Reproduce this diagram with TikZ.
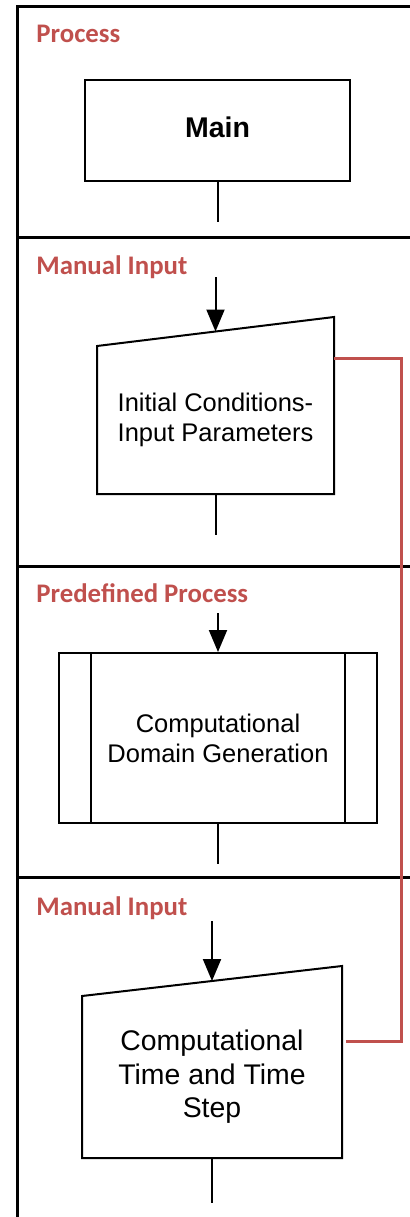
\documentclass[tikz,border=0pt]{standalone}
\usepackage{fontspec}
\setmainfont{Liberation Sans}
\newfontfamily\lanefont{Carlito}
\usetikzlibrary{arrows.meta,positioning}
\definecolor{lanered}{RGB}{192,80,77}

\begin{document}
\begin{tikzpicture}[
  x=1pt, y=-1pt,
  lane/.style={line width=1.5pt},
  lanetitle/.style={anchor=base west, inner sep=0pt, text=lanered, font=\lanefont\bfseries\fontsize{13.4}{15}\selectfont},
  box/.style={draw, line width=1pt, align=center, font=\fontsize{12.75}{15}\selectfont},
  manin/.style={box, draw=none},
  link/.style={line width=1pt},
  arr/.style={-{Triangle[length=11pt,width=9pt]}, line width=1pt},
  feedback/.style={draw=lanered, line width=1.5pt}
]
  \useasboundingbox (0,0) rectangle (205,608.5);

  \draw[lane] (205,3.25) -- (8.5,3.25) -- (8.5,608.5);
  \foreach \y in {118.75,283,438.75}
    \draw[lane] (8.5,\y) -- (205,\y);

  \node[lanetitle] (lane1) at (18,21) {Process};
  \node[lanetitle] (lane2) at (18,137) {Manual Input};
  \node[lanetitle] (lane3) at (18,301) {Predefined Process};
  \node[lanetitle] (lane4) at (18,457.5) {Manual Input};

  \node[box, minimum width=132.5pt, minimum height=50.5pt, text depth=3.5pt, font=\bfseries\fontsize{14.25}{17}\selectfont] (main) at (108.75,65.25) {Main};
  \node[manin, minimum width=117.5pt, minimum height=73pt] (init) at (107.75,210) {Initial Conditions-\\Input Parameters};
  \node[box, minimum width=159pt, minimum height=85pt] (dom) at (109,369) {Computational\\Domain Generation};
  \node[manin, minimum width=129pt, minimum height=80pt, font=\fontsize{14.2}{16.75}\selectfont] (tstep) at (106,538.5) {Computational\\Time and Time\\Step};

  \foreach \n/\s in {init/14.5pt,tstep/15pt}
    \draw[link] (\n.south west) -- (\n.south east) -- ([yshift=\s]\n.north east) -- (\n.north west) -- cycle;
  \draw[link] ([xshift=16.5pt]dom.north west) -- ([xshift=16.5pt]dom.south west);
  \draw[link] ([xshift=-16.5pt]dom.north east) -- ([xshift=-16.5pt]dom.south east);

  \coordinate[below=20pt of main] (main-out);
  \coordinate[above=34.5pt of init] (init-in);
  \coordinate[below=20.5pt of init] (init-out);
  \coordinate[above=19.5pt of dom] (dom-in);
  \coordinate[below=20pt of dom] (dom-out);
  \coordinate[above=37.5pt of tstep] (tstep-in);
  \coordinate[below=22.5pt of tstep] (tstep-out);

  \draw[link] (main) -- (main-out);
  \draw[arr] (init-in) -- ([yshift=7.25pt]init.north);
  \draw[link] (init) -- (init-out);
  \draw[arr] (dom-in) -- (dom);
  \draw[link] (dom) -- (dom-out);
  \draw[arr] (tstep-in) -- ([yshift=7.5pt]tstep.north);
  \draw[link] (tstep) -- (tstep-out);

  \draw[feedback] ([yshift=-6pt]init.north east) -- ++(33.5,0) |- ([xshift=2pt,yshift=18pt]tstep.east);
\end{tikzpicture}
\end{document}
